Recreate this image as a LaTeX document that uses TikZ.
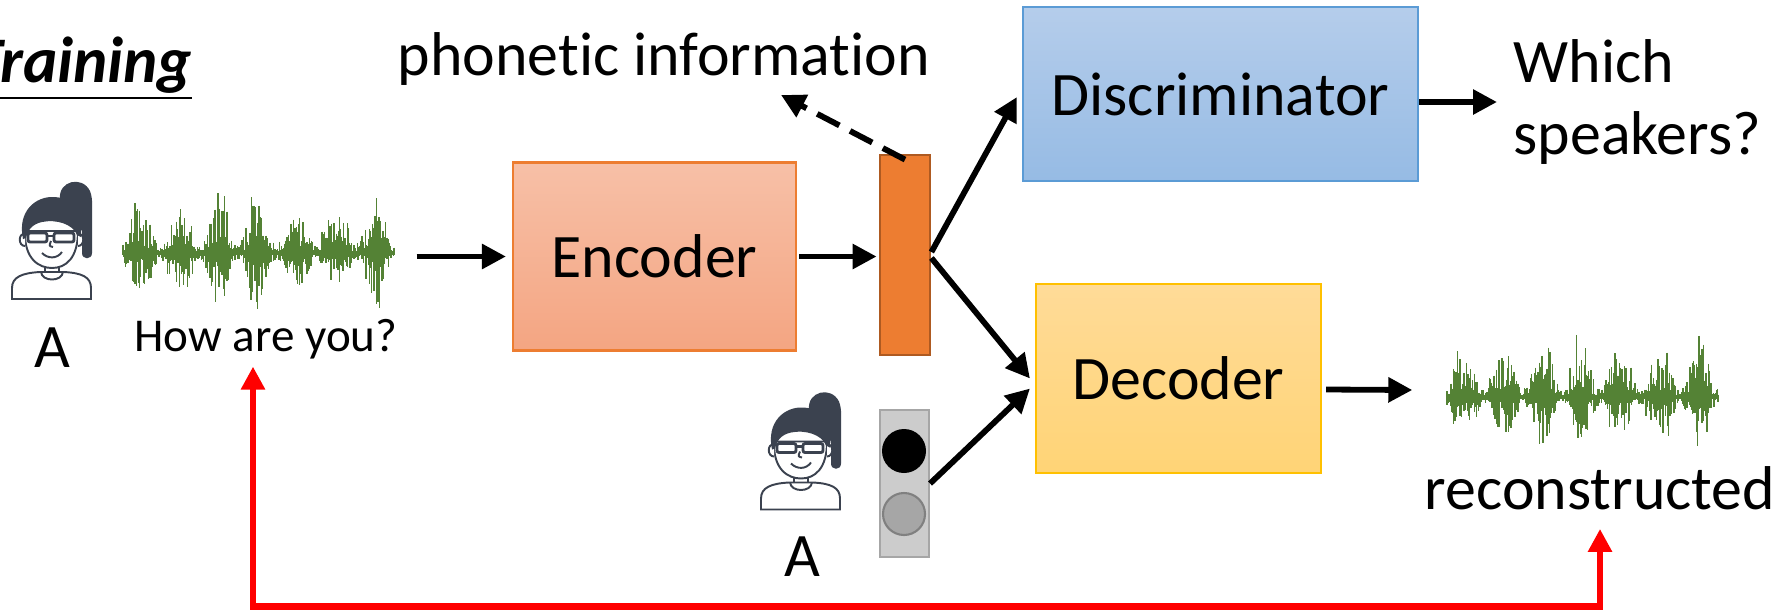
\documentclass[tikz,border=0pt]{standalone}
\usepackage{fontspec}
\setmainfont{Carlito}[Ligatures={NoCommon,NoRare}]
\usepackage{tikz}
\usetikzlibrary{arrows.meta}
\usetikzlibrary{calc}

\definecolor{wavegreen}{RGB}{84,130,53}
\definecolor{hairgray}{RGB}{59,66,79}
\definecolor{encTop}{RGB}{247,192,167}
\definecolor{encBot}{RGB}{244,165,130}
\definecolor{encLine}{RGB}{237,125,49}
\definecolor{discTop}{RGB}{181,205,235}
\definecolor{discBot}{RGB}{150,187,228}
\definecolor{discLine}{RGB}{91,155,213}
\definecolor{decTop}{RGB}{255,219,152}
\definecolor{decBot}{RGB}{255,212,118}
\definecolor{decLine}{RGB}{255,192,0}
\definecolor{codeFill}{RGB}{237,125,49}
\definecolor{codeLine}{RGB}{174,90,33}

% green speech signal: left end, centre line, seed
\newcommand{\speechwave}[3]{%
  \pgfmathsetseed{#3}
  \foreach \i in {0,...,339}{
    \pgfmathsetmacro{\wt}{\i/339}
    \pgfmathsetmacro{\wenv}{0.10+0.90*abs(sin(\wt*1250+10))^1.8*(0.75+0.25*sin(\wt*3100+40))}
    \pgfmathsetmacro{\wup}{0.76*\wenv*(0.15+0.85*rnd^1.8)}
    \pgfmathsetmacro{\wdn}{0.64*\wenv*(0.15+0.85*rnd^1.8)}
    \draw[wavegreen,line width=0.4pt] ({#1+\i*0.008},{#2+\wup}) -- ({#1+\i*0.008},{#2-\wdn});
  }
  \draw[wavegreen,line width=0.035cm] (#1,#2) -- ({#1+2.72},#2);
}

\tikzset{
  iconline/.style={hairgray,line width=0.55pt},
  girl/.pic={
    % shoulders and collar
    \draw[iconline,fill=white] (-0.40,-0.58) -- (-0.40,-0.47) .. controls (-0.40,-0.36) and (-0.30,-0.32) .. (-0.12,-0.31) -- (0.12,-0.31) .. controls (0.30,-0.32) and (0.39,-0.36) .. (0.39,-0.47) -- (0.39,-0.58) -- cycle;
    \draw[iconline] (-0.11,-0.31) .. controls (-0.10,-0.41) and (0.10,-0.41) .. (0.11,-0.31);
    \draw[iconline] (-0.07,-0.24) -- (-0.07,-0.31) (0.07,-0.24) -- (0.07,-0.31);
    % ponytail
    \fill[hairgray] (0.08,0.42) .. controls (0.06,0.60) and (0.30,0.66) .. (0.38,0.50) .. controls (0.41,0.42) and (0.40,0.35) .. (0.40,0.25) -- (0.40,-0.12) .. controls (0.40,-0.19) and (0.30,-0.19) .. (0.30,-0.12) -- (0.30,0.10) -- cycle;
    % face and ears
    \draw[iconline,fill=white] (-0.27,0.10) .. controls (-0.28,-0.18) and (-0.13,-0.27) .. (0,-0.27) .. controls (0.14,-0.27) and (0.26,-0.17) .. (0.26,0.10) -- cycle;
    \draw[iconline,fill=white] (-0.27,0.07) .. controls (-0.34,0.08) and (-0.34,-0.05) .. (-0.27,-0.05);
    \draw[iconline,fill=white] (0.26,0.07) .. controls (0.33,0.08) and (0.33,-0.05) .. (0.26,-0.05);
    % hair
    \fill[hairgray] (-0.29,0.02) .. controls (-0.35,0.30) and (-0.16,0.45) .. (0.02,0.44) .. controls (0.22,0.43) and (0.31,0.30) .. (0.29,0.04) -- (0.25,0.06) .. controls (0.21,0.17) and (0.04,0.22) .. (-0.10,0.19) .. controls (-0.19,0.17) and (-0.24,0.12) .. (-0.26,0.03) -- cycle;
    % glasses, nose, smile
    \draw[hairgray,line width=0.8pt,rounded corners=0.02cm] (-0.24,-0.01) rectangle (-0.05,0.08) (0.02,-0.01) rectangle (0.22,0.08);
    \draw[hairgray,line width=0.8pt] (-0.05,0.05) -- (0.02,0.05);
    \draw[iconline] (-0.01,0.0) .. controls (-0.03,-0.05) .. (0.01,-0.06);
    \draw[iconline] (-0.10,-0.12) .. controls (-0.04,-0.18) and (0.05,-0.18) .. (0.10,-0.11);
  }
}

\begin{document}
\begin{tikzpicture}[
  every node/.style={inner sep=0pt,font=\fontsize{17.6}{20.4}\selectfont},
  blk/.style={draw,line width=0.6pt},
  arr/.style={line width=0.058cm,-{Triangle[length=0.24cm,width=0.24cm]}},
  fb/.style={red,line width=0.065cm,{Triangle[length=0.23cm,width=0.23cm]}-{Triangle[length=0.23cm,width=0.23cm]}}
]
\useasboundingbox (0,0) rectangle (17.87,6.11);

\node[anchor=base east,font=\fontsize{18.5}{22}\selectfont\bfseries\itshape] (train) at (1.93,5.29) {\underline{Training}};

% speaker A and the input utterance
\pic (girlA) at (0.52,3.70) {girl};
\node (spkA) at (0.52,2.63) {A};
\speechwave{1.23}{3.58}{7}
\node[minimum width=2.73cm,minimum height=1.41cm] (wavein) at (2.595,3.545) {};
\node[font=\fontsize{13.4}{16}\selectfont] (hay) at (2.66,2.72) {How are you?};

\node[blk,draw=encLine,top color=encTop,bottom color=encBot,minimum width=2.83cm,minimum height=1.88cm] (enc) at (6.545,3.545) {Encoder};
\node[blk,draw=codeLine,fill=codeFill,line width=0.8pt,minimum width=0.5cm,minimum height=2.0cm] (code) at (9.05,3.56) {};
\node (phon) at (6.64,5.515) {phonetic information};
\coordinate (phontip) at (7.81,5.16);

\node[blk,draw=discLine,top color=discTop,bottom color=discBot,minimum width=3.95cm,minimum height=1.74cm] (disc) at (12.205,5.17) {Discriminator};
\node[anchor=west,align=left] (which) at (15.13,5.09) {Which\\speakers?};

\node[blk,draw=decLine,top color=decTop,bottom color=decBot,minimum width=2.85cm,minimum height=1.89cm] (dec) at (11.785,2.325) {Decoder};

% speaker code for A
\pic (girlB) at (8.01,1.595) {girl};
\node (spkB) at (8.02,0.54) {A};
\node[blk,draw={rgb,255:red,166;green,166;blue,166},fill={rgb,255:red,204;green,204;blue,204},minimum width=0.49cm,minimum height=1.47cm] (light) at (9.045,1.275) {};
\node[circle,fill=black,minimum size=0.44cm] (lon) at (9.04,1.60) {};
\node[circle,draw={rgb,255:red,128;green,128;blue,128},line width=0.6pt,fill={rgb,255:red,166;green,166;blue,166},minimum size=0.42cm] (loff) at (9.04,0.97) {};

% output
\speechwave{14.47}{2.14}{11}
\node[minimum width=2.71cm,minimum height=1.43cm] (waveout) at (15.825,2.21) {};
\node (recon) at (16.0,1.225) {reconstructed};

% connections
\draw[arr] ([xshift=0.2cm]wavein.east) -- ([xshift=-0.06cm]enc.west);
\draw[arr] ([xshift=0.02cm]enc.east) -- ([xshift=-0.02cm]enc.east -| code.west);
\draw[arr] ([yshift=0.03cm]code.east) -- ([xshift=-0.05cm,yshift=-0.03cm]disc.west);
\draw[arr] ([yshift=-0.03cm]code.east) -- ([xshift=-0.05cm]dec.west);
\draw[arr] (light.east) -- ([xshift=-0.05cm,yshift=-0.10cm]dec.west);
\draw[arr,dash pattern=on 0.25cm off 0.12cm] ([yshift=-0.06cm]code.north) -- (phontip);
\draw[arr] ([yshift=-0.08cm]disc.east) -- ([xshift=-0.16cm]which.west);
\draw[arr] ([xshift=0.04cm,yshift=-0.11cm]dec.east) -- ([xshift=-0.34cm]waveout.west);
\draw[fb] ([xshift=-0.13cm,yshift=-0.07cm]hay.south) -- ++(0,-2.40) -| ([yshift=-0.18cm]recon.south);
\end{tikzpicture}
\end{document}
